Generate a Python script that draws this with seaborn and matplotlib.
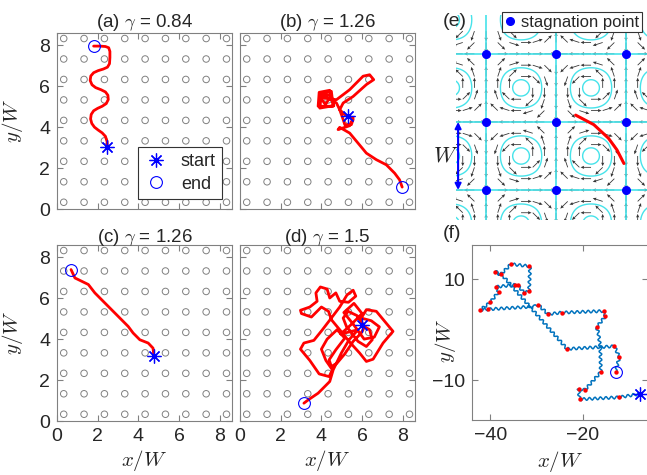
import numpy as np
import matplotlib
matplotlib.use("Agg")
import matplotlib.pyplot as plt
from matplotlib.lines import Line2D
import seaborn as sns

sns.set_style("white")
plt.rcParams["font.family"] = ["Liberation Sans", "DejaVu Sans"]
plt.rcParams["mathtext.fontset"] = "cm"

# ---------------- data ----------------
# pillar lattice positions (x/W and y/W)
post_pos = [0.33, 1.33, 2.33, 3.33, 4.33, 5.33, 6.33, 7.33, 8.33]

gammas = ["0.84", "1.26", "1.26", "1.5"]
panel_tags = ["(a)", "(b)", "(c)", "(d)"]

traj_a_x = [2.48, 2.46, 2.38, 2.22, 2.02, 1.84, 1.71, 1.65, 1.68, 1.80, 2.00, 2.22,
            2.42, 2.52, 2.50, 2.38, 2.16, 1.90, 1.72, 1.63, 1.66, 1.80, 2.02, 2.28,
            2.48, 2.58, 2.60, 2.60, 2.54, 2.38, 2.10, 1.80]
traj_a_y = [3.02, 3.30, 3.55, 3.72, 3.86, 4.00, 4.18, 4.40, 4.62, 4.80, 4.92, 5.02,
            5.15, 5.35, 5.56, 5.72, 5.83, 5.93, 6.07, 6.28, 6.50, 6.66, 6.76, 6.84,
            6.93, 7.10, 7.40, 7.70, 7.88, 7.94, 7.96, 7.96]

traj_b_x = [5.31, 5.56, 5.47, 5.15, 5.07, 4.90, 4.74,
            3.92, 4.49, 4.58, 3.84, 3.89, 4.41, 4.61, 3.92, 4.00, 4.49, 4.20, 3.95,
            4.74, 5.39, 6.05, 6.37, 6.57, 6.21, 5.56, 5.07, 4.90, 5.15, 5.56, 5.39,
            4.82, 4.90, 5.39, 5.80, 6.21, 6.70, 7.19, 7.60, 7.84, 7.97]
traj_b_y = [4.53, 4.37, 4.12, 4.12, 4.37, 4.85, 5.18,
            5.66, 5.75, 5.02, 5.02, 5.70, 5.80, 5.05, 4.93, 5.58, 5.58, 5.10, 5.45,
            5.34, 5.83, 6.49, 6.56, 6.32, 6.08, 5.50, 5.18, 4.85, 4.61, 4.45, 4.07,
            3.88, 3.99, 3.71, 3.22, 2.73, 2.41, 2.16, 1.75, 1.43, 1.07]

traj_c_x = [4.76, 4.72, 4.48, 4.07, 3.74, 3.50, 3.17, 2.76, 2.43, 2.11, 1.86, 1.54,
            1.21, 0.88, 0.69]
traj_c_y = [3.19, 3.56, 3.81, 3.97, 4.30, 4.62, 4.95, 5.36, 5.69, 6.01, 6.26, 6.67,
            6.83, 6.99, 7.40]

traj_d_x = [6.01, 6.37, 6.50, 6.21, 5.80, 5.23, 5.07, 5.31, 5.75, 6.13,
            5.96, 5.56, 5.15, 4.77, 4.49, 4.38, 4.71, 5.15, 4.77, 4.28,
            4.00, 4.22, 4.54, 4.38, 3.89, 3.43, 2.97, 3.14, 3.63, 4.05,
            4.45, 4.90, 5.26, 5.56, 5.69, 5.33, 4.90, 4.71, 4.41, 4.28,
            3.95, 3.73, 3.79, 3.43, 2.97, 3.02, 3.51, 4.00, 4.35, 4.49,
            4.90, 5.36, 5.88, 6.21, 6.54, 7.03, 7.52, 6.70, 6.21, 5.96,
            6.45, 6.85, 6.60, 6.10, 5.55, 5.10, 5.60, 6.00, 5.45, 4.95,
            5.80, 5.36, 4.98, 4.58, 4.41, 3.84, 3.35, 3.14]
traj_d_y = [4.67, 4.46, 3.97, 3.64, 3.89, 4.62, 5.03, 5.36, 5.15, 4.62,
            4.30, 3.89, 3.28, 2.83, 2.66, 2.99, 3.48, 4.05, 4.46, 4.00,
            3.51, 2.96, 2.50, 2.17, 2.30, 2.96, 3.51, 3.81, 3.94, 4.46,
            4.98, 5.57, 6.16, 6.39, 6.10, 5.80, 5.85, 6.26, 6.01, 6.45,
            6.55, 6.26, 5.85, 5.57, 5.41, 5.25, 5.08, 5.57, 5.36, 4.95,
            4.46, 3.89, 3.32, 2.91, 3.02, 3.81, 4.38, 5.36, 5.44, 5.03,
            4.90, 4.60, 4.10, 4.00, 4.75, 5.30, 5.75, 5.25, 4.70, 4.25,
            4.46, 3.97, 3.32, 2.50, 1.93, 1.36, 1.03, 0.87]

# cellular flow: stagnation points, streamline levels and one sample trajectory
stag_pos = [0, 1, 2]
flow_levels = [-0.93, -0.6, 0.6, 0.93]
traj_e_x = [1.28, 1.54, 1.75, 1.87, 1.97]
traj_e_y = [1.10, 0.96, 0.76, 0.59, 0.39]

# long-time trajectory
traj_f_x = [-7.6, -12.1, -20.7, -20.9, -19.5, -16.1, -16.2, -16.6, -17.0, -15.1,
            -15.5, -24.5, -27.5, -29.6, -30.6, -40.4, -42.2, -40.0, -38.2, -38.7,
            -34.6, -34.1, -32.6, -31.6, -31.4, -31.6, -35.5, -37.7, -38.9, -37.1,
            -23.4, -13.4, -13.2, -12.1, -12.9]
traj_f_y = [-12.7, -13.4, -13.8, -11.8, -11.9, -8.4, -3.7, -0.7, 0.5, 2.7,
            3.7, 3.4, 3.1, 4.9, 4.6, 4.05, 3.9, 5.4, 7.55, 8.5,
            8.9, 8.9, 7.2, 7.75, 12.2, 12.6, 13.0, 11.0, 11.5, 10.5,
            -3.8, -3.3, -3.2, -5.45, -8.3]
turn_idx = [1, 2, 3, 4, 5, 8, 9, 10, 11, 12, 13, 15, 16, 17, 18, 19, 20, 21, 22,
            23, 25, 26, 27, 28, 30, 32, 33, 34]

# ---------------- styling helpers ----------------
GRID = "#808080"
TXT = "#262626"
CYAN = "#46e3ea"
TICK_FS = 14
LABEL_FS = 15


def box_axes(ax):
    for s in ax.spines.values():
        s.set_visible(True)
        s.set_color(GRID)
        s.set_linewidth(0.8)
    ax.tick_params(direction="in", length=4, width=0.8, color=GRID,
                   bottom=True, left=True, top=True, right=True,
                   labelsize=TICK_FS, labelcolor=TXT, pad=5)


fig = plt.figure(figsize=(6.47, 4.75), dpi=100)
W, H = 647, 475


def add_axes(l, t, w, h):
    return fig.add_axes([l / W, 1 - (t + h) / H, w / W, h / H])


axes_ad = [add_axes(57, 33, 175, 176), add_axes(240, 33, 175, 176),
           add_axes(57, 245, 175, 176), add_axes(240, 245, 175, 176)]
trajs = [(traj_a_x, traj_a_y), (traj_b_x, traj_b_y),
         (traj_c_x, traj_c_y), (traj_d_x, traj_d_y)]

px, py = np.meshgrid(post_pos, post_pos)
for i, (ax, (tx, ty)) in enumerate(zip(axes_ad, trajs)):
    ax.scatter(px.ravel(), py.ravel(), s=22, facecolors="none",
               edgecolors=GRID, linewidths=0.7, zorder=1)
    sns.lineplot(x=tx, y=ty, sort=False, estimator=None, color="red",
                 lw=2.0, ax=ax, zorder=2)
    ax.plot(tx[0], ty[0], ls="none", marker=(8, 2, 0), ms=10, mew=0.9,
            color="blue", label="start", zorder=3)
    ax.plot(tx[-1], ty[-1], ls="none", marker="o", ms=8.5, mfc="none",
            mec="blue", mew=0.8, label="end", zorder=3)
    ax.set_xlim(0, 8.6)
    ax.set_ylim(0, 8.6)
    ax.set_xticks([0, 2, 4, 6, 8])
    ax.set_yticks([0, 2, 4, 6, 8])
    box_axes(ax)
    ax.set_title(rf"{panel_tags[i]} $\gamma$ = {gammas[i]}", fontsize=13.5,
                 color=TXT, pad=2.5)
    if i in (0, 1):
        ax.tick_params(labelbottom=False)
    else:
        ax.set_xlabel(r"$x/W$", fontsize=LABEL_FS, color=TXT)
        ax.xaxis.set_label_coords(0.5, -0.155)
    if i in (1, 3):
        ax.tick_params(labelleft=False)
    else:
        ax.set_ylabel(r"$y/W$", fontsize=LABEL_FS, color=TXT)
        ax.yaxis.set_label_coords(-0.185, 0.5)

leg = axes_ad[0].legend(loc="lower right", fontsize=13, frameon=True,
                        fancybox=False, edgecolor="#333333", framealpha=1,
                        handlelength=1.3, handletextpad=0.7, borderpad=0.35,
                        labelspacing=0.3, borderaxespad=0.55)
leg.get_frame().set_linewidth(0.8)

# ---------------- (e) cellular flow ----------------
ax_e = add_axes(456, 15, 191, 205)
qx = np.arange(-3, 15) / 6.0
QX, QY = np.meshgrid(qx, qx)
U = np.sin(np.pi * QX) * np.cos(np.pi * QY)
V = -np.cos(np.pi * QX) * np.sin(np.pi * QY)
mag = np.hypot(U, V)
keep = mag > 0.05
L = 0.15
ax_e.quiver(QX[keep], QY[keep], U[keep] / mag[keep] * L, V[keep] / mag[keep] * L,
            angles="xy", scale_units="xy", scale=1, width=0.0042,
            headwidth=4, headlength=4.5, headaxislength=4, color="#333333",
            zorder=2)

gx = np.linspace(-0.6, 2.6, 321)
GX, GY = np.meshgrid(gx, gx)
psi = np.sin(np.pi * GX) * np.sin(np.pi * GY)
ax_e.contour(GX, GY, psi, levels=flow_levels, colors=CYAN, linewidths=1.0,
             linestyles="solid", zorder=3)
for v in stag_pos:
    ax_e.axvline(v, color=CYAN, lw=1.2, zorder=3)
    ax_e.axhline(v, color=CYAN, lw=1.2, zorder=3)

sx, sy = np.meshgrid(stag_pos, stag_pos)
ax_e.scatter(sx.ravel(), sy.ravel(), s=30, color="blue", zorder=4)
sns.lineplot(x=traj_e_x, y=traj_e_y, sort=False, estimator=None, color="red",
             lw=2.2, ax=ax_e, zorder=5)
ax_e.set_xlim(-0.43, 2.3)
ax_e.set_ylim(-0.44, 2.57)
ax_e.set_axis_off()
ax_e.annotate("", xy=(-0.40, 0.0), xytext=(-0.40, 1.0), annotation_clip=False,
              arrowprops=dict(arrowstyle="<|-|>", color="blue", lw=1.5,
                              mutation_scale=9, shrinkA=0, shrinkB=0))
ax_e.text(-0.58, 0.5, r"$W$", fontsize=16, ha="center", va="center",
          color=TXT, clip_on=False)
stag_handle = Line2D([], [], ls="none", marker="o", ms=5.5, color="blue")
leg_e = ax_e.legend([stag_handle], ["stagnation point"], loc="upper right",
                    bbox_to_anchor=(642 / W, 1 - 12 / H),
                    bbox_transform=fig.transFigure, fontsize=12, frameon=True,
                    fancybox=False, edgecolor="#333333", framealpha=1,
                    handlelength=0.6, handletextpad=0.4, borderpad=0.15,
                    borderaxespad=0)
leg_e.get_frame().set_linewidth(0.8)
fig.text(443 / W, 1 - 21 / H, "(e)", fontsize=14, color=TXT, va="center")

# ---------------- (f) long trajectory ----------------
ax_f = add_axes(471.7, 245, 176.3, 175)
sns.lineplot(x=traj_f_x, y=traj_f_y, sort=False, estimator=None,
             color="#0072BD", lw=1.1, ax=ax_f, zorder=2)
ax_f.lines[-1].set_sketch_params(1.4, 5.5, 1.0)
ax_f.scatter([traj_f_x[i] for i in turn_idx], [traj_f_y[i] for i in turn_idx],
             s=10, color="red", zorder=3, linewidths=0)
ax_f.plot(traj_f_x[0], traj_f_y[0], ls="none", marker=(8, 2, 0), ms=10,
          mew=0.9, color="blue", zorder=4)
ax_f.plot(traj_f_x[-1], traj_f_y[-1], ls="none", marker="o", ms=8.5,
          mfc="none", mec="blue", mew=0.8, zorder=4)
ax_f.set_xlim(-44, -5.9)
ax_f.set_ylim(-17.9, 16.8)
ax_f.set_xticks([-40, -20])
ax_f.set_yticks([-10, 10])
box_axes(ax_f)
ax_f.set_xlabel(r"$x/W$", fontsize=LABEL_FS, color=TXT)
ax_f.xaxis.set_label_coords(0.5, -0.165)
ax_f.set_ylabel(r"$y/W$", fontsize=LABEL_FS, color=TXT)
ax_f.yaxis.set_label_coords(-0.075, 0.45)
fig.text(443 / W, 1 - 233 / H, "(f)", fontsize=14, color=TXT, va="center")

fig.savefig("out.png", dpi=100)
